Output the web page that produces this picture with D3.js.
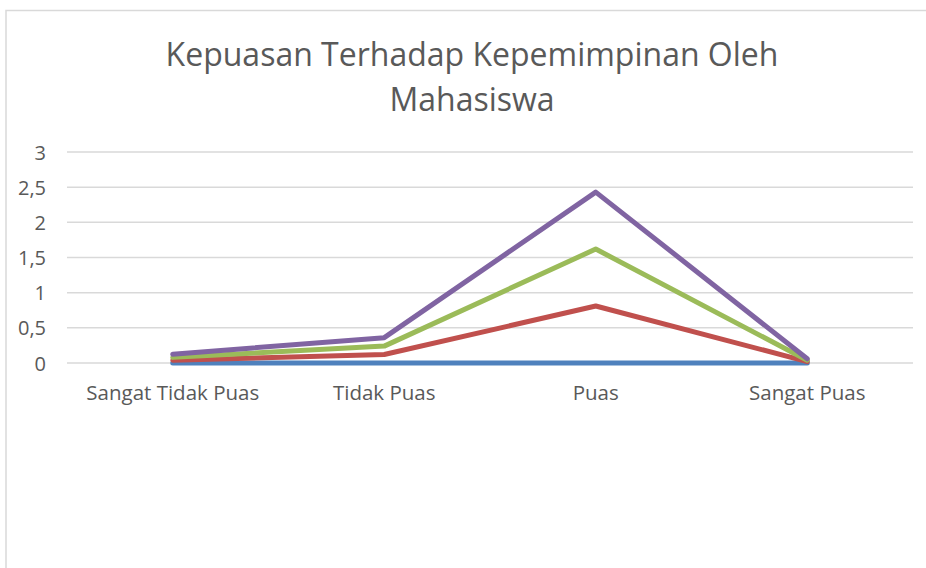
<!DOCTYPE html>
<html>
<head>
<meta charset="utf-8">
<script src="https://cdn.jsdelivr.net/npm/d3@7"></script>
<style>
  body { margin: 0; background: #fff; }
  text { font-family: "Open Sans", sans-serif; fill: #595959; }
</style>
</head>
<body>
<div id="chart"></div>
<script>
// chart data
var categories = ["Sangat Tidak Puas", "Tidak Puas", "Puas", "Sangat Puas"]
var seriesBlue = [0, 0, 0, 0]
var seriesRed = [0.04, 0.12, 0.81, 0.02]
var seriesGreen = [0.04, 0.12, 0.81, 0.02]
var seriesPurple = [0.045, 0.12, 0.81, 0.02]
var yTicks = [0, 0.5, 1, 1.5, 2, 2.5, 3]
var titleLines = ["Kepuasan Terhadap Kepemimpinan Oleh", "Mahasiswa"]

var colors = ["#4F81BD", "#C0504D", "#9BBB59", "#8064A2"]

var width = 926
var height = 568
var margin = {top: 152, right: 13, bottom: 205, left: 67}
var plotW = width - margin.left - margin.right
var plotH = height - margin.top - margin.bottom

var svg = d3.select("#chart").append("svg")
  .attr("width", width)
  .attr("height", height)

// chart area border (only top and left edges visible in frame)
svg.append("rect")
  .attr("x", 6).attr("y", 10.5)
  .attr("width", 1000).attr("height", 700)
  .attr("fill", "none")
  .attr("stroke", "#D9D9D9")
  .attr("stroke-width", 1.5)

// title
svg.append("text")
  .attr("x", 472)
  .attr("y", 66)
  .attr("text-anchor", "middle")
  .style("font-size", "32px")
  .selectAll("tspan")
  .data(titleLines)
  .enter().append("tspan")
  .attr("x", 472)
  .attr("dy", function (d, i) { return i == 0 ? 0 : 45 })
  .text(function (d) { return d })

var x = d3.scaleBand()
  .domain(categories)
  .range([0, plotW])

var y = d3.scaleLinear()
  .domain([0, 3])
  .range([plotH, 0])

var main = svg.append("g")
  .attr("transform", "translate(" + margin.left + "," + margin.top + ")")

// gridlines
main.append("g")
  .selectAll("line")
  .data(yTicks)
  .enter().append("line")
  .attr("x1", 0).attr("x2", plotW)
  .attr("y1", function (d) { return y(d) })
  .attr("y2", function (d) { return y(d) })
  .attr("stroke", "#D9D9D9")
  .attr("stroke-width", 1.5)

// y axis labels
var yAxis = d3.axisLeft(y)
  .tickValues(yTicks)
  .tickSize(0)
  .tickPadding(21)
  .tickFormat(function (d) { return String(d).replace(".", ",") })

var yg = main.append("g").call(yAxis)
yg.select(".domain").remove()
yg.selectAll("text").style("font-size", "20px").attr("dy", "0.35em")

// x axis labels
var xAxis = d3.axisBottom(x).tickSize(0).tickPadding(22)
var xg = main.append("g")
  .attr("transform", "translate(0," + plotH + ")")
  .call(xAxis)
xg.select(".domain").remove()
xg.selectAll("text").style("font-size", "20.5px")

// stacked lines
var rows = categories.map(function (c, i) {
  return {cat: c, blue: seriesBlue[i], red: seriesRed[i], green: seriesGreen[i], purple: seriesPurple[i]}
})
var stack = d3.stack().keys(["blue", "red", "green", "purple"])
var layers = stack(rows)

var line = d3.line()
  .x(function (d) { return x(d.data.cat) + x.bandwidth() / 2 })
  .y(function (d) { return y(d[1]) })

main.append("g")
  .selectAll("path")
  .data(layers)
  .enter().append("path")
  .attr("d", line)
  .attr("fill", "none")
  .attr("stroke", function (d, i) { return colors[i] })
  .attr("stroke-width", 5)
  .attr("stroke-linejoin", "round")
  .attr("stroke-linecap", "round")
</script>
</body>
</html>
